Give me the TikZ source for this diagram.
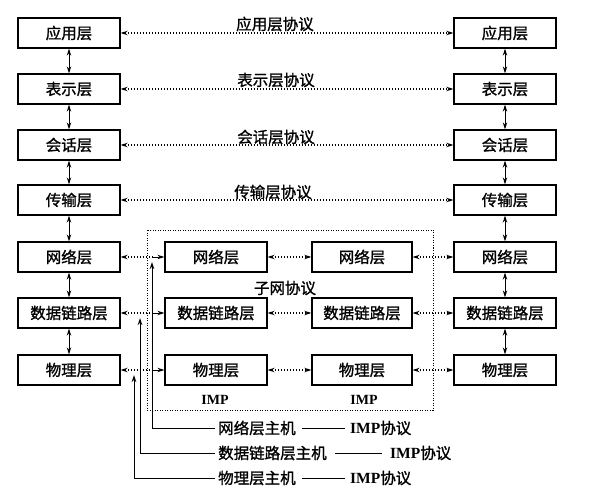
\documentclass[tikz,border=0pt]{standalone}
\usepackage{fontspec}
\setmainfont{Noto Sans CJK SC}[FakeBold=1.2]
\newfontfamily\impf{Liberation Serif}[BoldFont={Liberation Serif Bold}]
\usetikzlibrary{arrows.meta}
\begin{document}
\begin{tikzpicture}[x=1pt,y=-1pt,
  layer/.style={draw, line width=1.3pt, minimum width=102pt, minimum height=30pt, inner sep=0pt, font=\fontsize{15.5}{16}\selectfont},
  lab/.style={inner sep=0pt, font=\fontsize{15.5}{16}\selectfont},
  tip/.tip={Stealth[length=7pt,width=4.5pt]},
  proto/.style={line width=1.2pt, dash pattern=on 1.2pt off 1.8pt, tip-tip},
  protol/.style={line width=1.2pt, dash pattern=on 1.2pt off 1.8pt, tip-},
  solidr/.style={line width=1pt, -tip},
  varrow/.style={line width=1pt, tip-tip},
  hostline/.style={line width=1pt, -tip},
  box/.style={line width=1pt, dash pattern=on 1pt off 1.5pt}
]
\useasboundingbox (0,0) rectangle (589,495);
% left column
\node[layer] (L1) at (69,33) {应用层};
\node[layer] (L2) at (69,89) {表示层};
\node[layer] (L3) at (69,145) {会话层};
\node[layer] (L4) at (69,200) {传输层};
\node[layer] (L5) at (69,257) {网络层};
\node[layer] (L6) at (69,313) {数据链路层};
\node[layer] (L7) at (69,370) {物理层};
% right column
\node[layer] (R1) at (505,33) {应用层};
\node[layer] (R2) at (505,89) {表示层};
\node[layer] (R3) at (505,145) {会话层};
\node[layer] (R4) at (505,200) {传输层};
\node[layer] (R5) at (505,257) {网络层};
\node[layer] (R6) at (505,313) {数据链路层};
\node[layer] (R7) at (505,370) {物理层};
% IMPs
\node[layer] (A5) at (216,257) {网络层};
\node[layer] (A6) at (216,313) {数据链路层};
\node[layer] (A7) at (216,370) {物理层};
\node[layer, minimum width=100pt] (B5) at (362,257) {网络层};
\node[layer, minimum width=100pt] (B6) at (362,313) {数据链路层};
\node[layer, minimum width=100pt] (B7) at (362,370) {物理层};
% subnet frame
\draw[box] (147,230) rectangle (433,410);
\node[inner sep=0pt, font=\impf\bfseries\fontsize{14}{15}\selectfont] (imp1) at (215,400) {IMP};
\node[inner sep=0pt, font=\impf\bfseries\fontsize{14}{15}\selectfont] (imp2) at (364,400) {IMP};
\node[lab] (sub) at (285,288) {子网协议};
% vertical arrows
\foreach \a/\b in {1/2,2/3,3/4,4/5,5/6,6/7}{
  \draw[varrow] (L\a.south) -- (L\b.north);
  \draw[varrow] (R\a.south) -- (R\b.north);
}
% peer protocols
\draw[proto] (L1.east) -- (R1.west);
\draw[proto] (L2.east) -- (R2.west);
\draw[proto] (L3.east) -- (R3.west);
\draw[proto] (L4.east) -- (R4.west);
\node[lab] (p1) at (275,24) {应用层协议};
\node[lab] (p2) at (276,80) {表示层协议};
\node[lab] (p3) at (276,137) {会话层协议};
\node[lab] (p4) at (273,192) {传输层协议};
% subnet links
\foreach \r in {5,6,7}{
  \draw[proto] (A\r.east) -- (B\r.west);
  \draw[proto] (B\r.east) -- (R\r.west);
}
\coordinate (j5) at (152,257);
\coordinate (j6) at (152,313);
\coordinate (j7) at (152,370);
\draw[protol] (L5.east) -- (j5);
\draw[protol] (L6.east) -- (j6);
\draw[protol] (L7.east) -- (j7);
\draw[solidr] (j5) -- (A5.west);
\draw[solidr] (j6) -- (A6.west);
\draw[solidr] (j7) -- (A7.west);
% host labels
\node[lab, anchor=west] (h1) at (218,428) {网络层主机};
\node[lab, anchor=west] (h2) at (218,453) {数据链路层主机};
\node[lab, anchor=west] (h3) at (218,478) {物理层主机};
\node[lab, anchor=west] (i1) at (350,428) {{\impf\bfseries IMP}协议};
\node[lab, anchor=west] (i2) at (390,453) {{\impf\bfseries IMP}协议};
\node[lab, anchor=west] (i3) at (350,478) {{\impf\bfseries IMP}协议};
\draw[line width=1pt] ([xshift=6pt]h1.east) -- ([xshift=-5pt]i1.west);
\draw[line width=1pt] ([xshift=8pt]h2.east) -- ([xshift=-8pt]i2.west);
\draw[line width=1pt] ([xshift=6pt]h3.east) -- ([xshift=-5pt]i3.west);
\coordinate (t1) at (152,262);
\coordinate (t2) at (140,318);
\coordinate (t3) at (134,375);
\draw[hostline] ([xshift=-3pt]h1.west) -| (t1);
\draw[hostline] ([xshift=-3pt]h2.west) -| (t2);
\draw[hostline] ([xshift=-3pt]h3.west) -| (t3);
\end{tikzpicture}
\end{document}
